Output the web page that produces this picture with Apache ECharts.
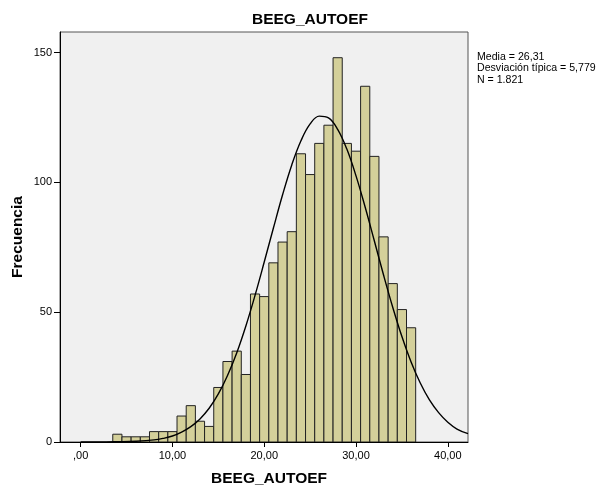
<!DOCTYPE html>
<html>
<head>
<meta charset="utf-8">
<script src="https://cdn.jsdelivr.net/npm/echarts@6/dist/echarts.min.js"></script>
<style>
html,body{margin:0;padding:0;background:#fff;}
#chart{width:598px;height:488px;}
</style>
</head>
<body>
<div id="chart"></div>
<script>
// Histogram bin centers (bin width 1)
var binCenters = [4,5,6,7,8,9,10,11,12,13,14,15,16,17,18,19,20,21,22,23,24,25,26,27,28,29,30,31,32,33,34,35,36];
// Frequencies
var frequencies = [3,2,2,2,4,4,4,10,14,8,6,21,31,35,26,57,56,69,77,81,111,103,115,122,148,115,112,137,110,79,61,51,44];
// Normal curve
var curveX = [0,2,4,6,8,9,10,11,12,13,14,15,16,17,18,19,20,21,22,23,24,25,26,27,28,29,30,31,32,33,34,35,36,37,38,39,40,41,42.2];
var curveY = [0,0,0.1,0.3,0.8,1.4,2.3,3.8,5.9,8.9,13,18.5,25.6,34.3,44.7,56.5,69.3,82.4,95.2,106.7,116,122.5,125.5,124.8,120.4,112.8,102.5,90.4,77.4,64.3,51.9,40.6,30.8,22.7,16.2,11.3,7.6,5,3.2];
// Tick values and labels
var xTicks = [0,10,20,30,40];
var xTickLabels = [',00','10,00','20,00','30,00','40,00'];
var yTicks = [0,50,100,150];
var yTickLabels = ['0','50','100','150'];
var statsLines = ['Media = 26,31','Desviación típica = 5,779','N = 1.821'];
var titleText = 'BEEG_AUTOEF';
var xName = 'BEEG_AUTOEF';
var yName = 'Frecuencia';

var barData = binCenters.map(function(c,i){return [c, frequencies[i]];});
var curveData = curveX.map(function(x,i){return [x, curveY[i]];});

var FONT = '"Liberation Sans", Arial, sans-serif';
var chart = echarts.init(document.getElementById('chart'), null, {renderer:'canvas'});
chart.setOption({
  animation:false,
  backgroundColor:'#ffffff',
  title:{text:titleText,left:252,top:12,padding:0,textStyle:{fontFamily:FONT,fontSize:15.5,fontWeight:'bold',color:'#000'}},
  grid:{left:60,right:130,top:32,bottom:46,show:true,backgroundColor:'#F0F0F0',borderColor:'#555',borderWidth:1,containLabel:false,outerBoundsMode:'none'},
  xAxis:{type:'value',min:-2.25,max:42.2,
    name:xName,nameLocation:'middle',nameGap:29,nameMoveOverlap:false,
    nameTextStyle:{fontFamily:FONT,fontSize:15.5,fontWeight:'bold',color:'#000',padding:[0,0,0,10]},
    axisLine:{show:true,onZero:false,lineStyle:{color:'#000',width:1}},
    axisTick:{show:true,length:5,lineStyle:{color:'#000'},customValues:xTicks},
    axisLabel:{show:true,margin:8,fontFamily:FONT,fontSize:11,color:'#000',customValues:xTicks,
      formatter:function(v){var i=xTicks.indexOf(v);return i>=0?xTickLabels[i]:'';}},
    splitLine:{show:false}},
  yAxis:{type:'value',min:0,max:157.9,
    name:yName,nameLocation:'middle',nameGap:34,nameMoveOverlap:false,
    nameTextStyle:{fontFamily:FONT,fontSize:15.5,fontWeight:'bold',color:'#000'},
    axisLine:{show:true,onZero:false,lineStyle:{color:'#000',width:1}},
    axisTick:{show:true,length:6,lineStyle:{color:'#000'},customValues:yTicks},
    axisLabel:{show:true,margin:8,fontFamily:FONT,fontSize:11,color:'#000',customValues:yTicks,
      formatter:function(v){var i=yTicks.indexOf(v);return i>=0?yTickLabels[i]:'';}},
    splitLine:{show:false}},
  graphic:[{type:'text',left:477,top:51,style:{text:statsLines.join('\n'),font:'10.6px '+FONT,fill:'#000',lineHeight:11.5}}],
  series:[
    {type:'custom',data:barData,clip:true,
     renderItem:function(params,api){
       var c=api.value(0), v=api.value(1);
       var p0=api.coord([c-0.5,0]), p1=api.coord([c+0.5,v]);
       return {type:'rect',shape:{x:p0[0],y:p1[1],width:p1[0]-p0[0],height:p0[1]-p1[1]},
         style:{fill:'#D4D09A',stroke:'#222',lineWidth:1}};
     },z:2},
    {type:'line',data:curveData,smooth:0.4,showSymbol:false,clip:true,
     lineStyle:{color:'#000',width:1.4},z:3}
  ]
});
</script>
</body>
</html>
